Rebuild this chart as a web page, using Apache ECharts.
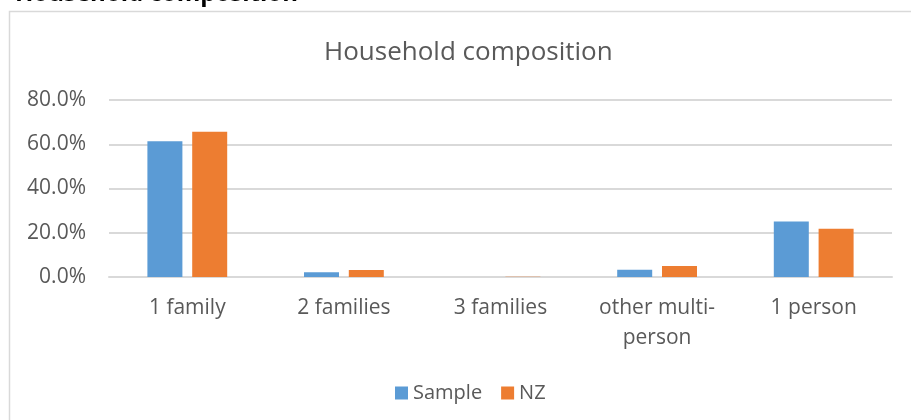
<!DOCTYPE html>
<html><head><meta charset="utf-8">
<script src="https://cdn.jsdelivr.net/npm/echarts@6/dist/echarts.min.js"></script>
<style>html,body{margin:0;padding:0;background:#fff;}#c{width:911px;height:420px;}</style>
</head><body><div id="c"></div>
<script>
const categories = ['1 family', '2 families', '3 families', 'other multi-\nperson', '1 person'];
const sampleValues = [61.4, 2.1, 0.05, 3.3, 25.1];
const nzValues = [65.7, 3.2, 0.1, 5.0, 21.8];
const seriesNames = ['Sample', 'NZ'];
const chartTitle = 'Household composition';

const FONT = 'Open Sans';
const TXT = '#595959';
const chart = echarts.init(document.getElementById('c'), null, {renderer: 'canvas'});
chart.setOption({
  animation: false,
  title: {
    text: chartTitle, left: 319, top: 35,
    textStyle: {fontFamily: FONT, fontSize: 26, fontWeight: 'normal', color: TXT}
  },
  legend: {
    data: seriesNames, bottom: 12, left: 390,
    icon: 'rect', itemWidth: 13, itemHeight: 13, itemGap: 19,
    textStyle: {fontFamily: FONT, fontSize: 20, color: TXT}
  },
  grid: {left: 109, right: 19, top: 100, bottom: 143},
  xAxis: {
    type: 'category', data: categories,
    axisLine: {lineStyle: {color: '#d9d9d9', width: 2}},
    axisTick: {show: false},
    axisLabel: {fontFamily: FONT, fontSize: 21, color: TXT, margin: 16, lineHeight: 30}
  },
  yAxis: {
    type: 'value', min: 0, max: 80, interval: 20,
    axisLine: {show: false}, axisTick: {show: false},
    splitLine: {lineStyle: {color: '#d9d9d9', width: 2}},
    axisLabel: {fontFamily: FONT, fontSize: 21, color: TXT, margin: 23,
      formatter: v => v.toFixed(1) + '%'}
  },
  series: [
    {name: seriesNames[0], type: 'bar', data: sampleValues, barWidth: 35, barGap: '28%',
     itemStyle: {color: '#5B9BD5'}},
    {name: seriesNames[1], type: 'bar', data: nzValues, barWidth: 35, barGap: '28%',
     itemStyle: {color: '#ED7D31'}}
  ],
  graphic: [
    {type: 'rect', shape: {x: 9.5, y: 11.5, width: 1000, height: 1000}, silent: true, z: -1,
     style: {fill: 'none', stroke: '#d9d9d9', lineWidth: 1.5}},
    {type: 'text', left: 15, top: -18, silent: true,
     style: {text: chartTitle, fontFamily: FONT, fontSize: 24, fontWeight: 'bold', fill: '#000'}}
  ]
});
</script></body></html>
